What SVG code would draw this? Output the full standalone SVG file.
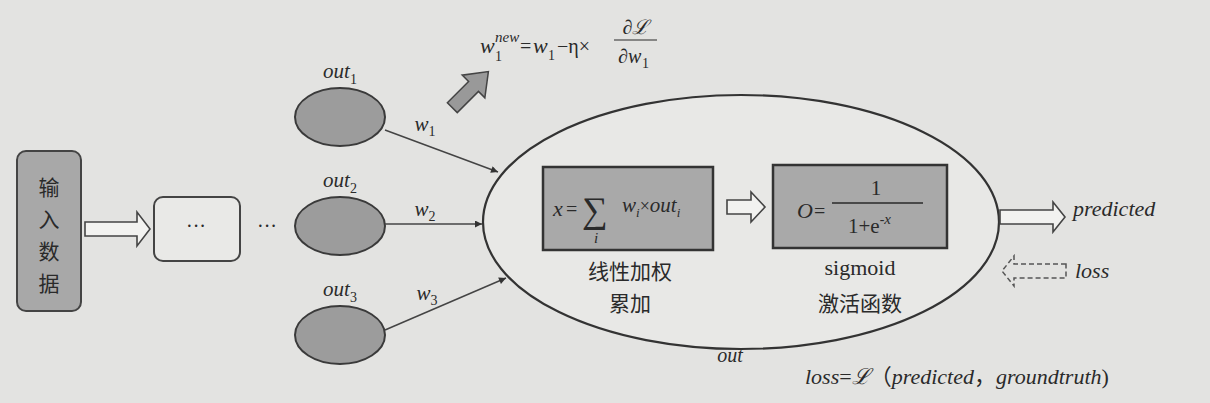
<svg xmlns="http://www.w3.org/2000/svg" width="1210" height="403" viewBox="0 0 1210 403">
<defs>
<style>
.bg{fill:#e3e3e1}
.m{font-style:italic;fill:#2a2a2a}
.r{fill:#2a2a2a}
.cjk{fill:#2a2a2a;font-size:21px}
.node{fill:#9c9c9c;stroke:#3a3a3a;stroke-width:2}
.box{fill:#a9a9a9;stroke:#333;stroke-width:2.5}
.hollow{fill:#f2f2f0;stroke:#444;stroke-width:1.6}
.edge{stroke:#444;stroke-width:1.5;fill:none;marker-end:url(#ah)}
</style>
<marker id="ah" viewBox="0 0 10 10" refX="10" refY="5" markerWidth="9" markerHeight="7" orient="auto" markerUnits="userSpaceOnUse">
<path d="M0,0 L10,5 L0,10 z" fill="#333"/>
</marker>
</defs>
<rect class="bg" x="0" y="0" width="1210" height="403"/>
<g font-family="'Liberation Serif', 'Times New Roman', 'DejaVu Serif', 'Noto Sans CJK SC', serif">

<g id="formula-update">
<text class="m" x="480" y="53" font-size="22">w</text>
<text class="r" x="495" y="61" font-size="14">1</text>
<text class="m" x="495" y="42" font-size="15">new</text>
<text class="r" x="520" y="53" font-size="20">=</text>
<text class="m" x="533" y="53" font-size="22">w</text>
<text class="r" x="548" y="60" font-size="14">1</text>
<text class="r" x="557" y="53" font-size="20">−η×</text>
<text class="m" x="636" y="34" font-size="20" text-anchor="middle">∂ℒ</text>
<line x1="614" y1="40" x2="657" y2="40" stroke="#2a2a2a" stroke-width="1.2"/>
<text class="m" x="618" y="63" font-size="20">∂w</text>
<text class="r" x="642" y="68" font-size="14">1</text>
</g>

<g id="update-arrow">
<polygon transform="translate(470,90) rotate(-45)" points="-25,-7 5,-7 5,-16 26,0 5,16 5,7 -25,7" fill="#999" stroke="#444" stroke-width="1.5"/>
</g>

<g id="input">
<rect x="17" y="151" width="64" height="160" rx="9" fill="#a8a8a8" stroke="#444" stroke-width="2"/>
<text class="cjk" x="49" y="195" text-anchor="middle">输</text>
<text class="cjk" x="49" y="227" text-anchor="middle">入</text>
<text class="cjk" x="49" y="259" text-anchor="middle">数</text>
<text class="cjk" x="49" y="291" text-anchor="middle">据</text>
</g>

<g id="hidden">
<rect x="154" y="197" width="86" height="64" rx="9" fill="#e9e9e7" stroke="#444" stroke-width="2"/>
<text class="r" x="196" y="233" font-size="20" text-anchor="middle">···</text>
<text class="r" x="267" y="233" font-size="20" text-anchor="middle">···</text>
</g>

<g id="out1">
<ellipse class="node" cx="340" cy="117" rx="45" ry="29"/>
<text class="m" x="340" y="78" font-size="21" text-anchor="middle">out<tspan font-style="normal" font-size="14" dy="6">1</tspan></text>
</g>
<g id="out2">
<ellipse class="node" cx="340" cy="226" rx="45" ry="29"/>
<text class="m" x="340" y="187" font-size="21" text-anchor="middle">out<tspan font-style="normal" font-size="14" dy="6">2</tspan></text>
</g>
<g id="out3">
<ellipse class="node" cx="340" cy="335" rx="45" ry="29"/>
<text class="m" x="340" y="296" font-size="21" text-anchor="middle">out<tspan font-style="normal" font-size="14" dy="6">3</tspan></text>
</g>

<g id="neuron">
<ellipse cx="741" cy="222" rx="258" ry="127" fill="#e8e8e6" stroke="#333" stroke-width="2.2"/>
<rect class="box" x="543" y="167" width="170" height="83"/>
<text class="m" x="553" y="216" font-size="22">x</text>
<text class="r" x="566" y="216" font-size="20">=</text>
<text class="r" x="582" y="222" font-size="36">∑</text>
<text class="m" x="594" y="243" font-size="15">i</text>
<text class="m" x="622" y="212" font-size="21">w<tspan font-size="13" dy="5">i</tspan><tspan font-style="normal" font-size="18" dy="-5">×</tspan>out<tspan font-size="13" dy="5">i</tspan></text>
<polygon class="hollow" points="727,200 751,200 751,192 765,207 751,222 751,214 727,214"/>
<rect class="box" x="773" y="165" width="174" height="83"/>
<text class="m" x="797" y="218" font-size="22">O</text>
<text class="r" x="814" y="218" font-size="20">=</text>
<text class="r" x="876" y="195" font-size="21" text-anchor="middle">1</text>
<line x1="832" y1="203" x2="923" y2="203" stroke="#2a2a2a" stroke-width="1.3"/>
<text class="r" x="848" y="233" font-size="21">1+e<tspan font-size="14" dy="-9">-</tspan><tspan font-style="italic" font-size="15">x</tspan></text>
<text class="cjk" x="630" y="279" text-anchor="middle" font-size="22">线性加权</text>
<text class="cjk" x="630" y="311" text-anchor="middle" font-size="22">累加</text>
<text class="r" x="860" y="275" text-anchor="middle" font-size="22">sigmoid</text>
<text class="cjk" x="860" y="311" text-anchor="middle" font-size="22">激活函数</text>
<text class="m" x="730" y="362" font-size="20" text-anchor="middle">out</text>
</g>

<g id="connectors">
<polygon class="hollow" points="85,222 137,222 137,212 150,229 137,246 137,236 85,236"/>
<line class="edge" x1="385" y1="130" x2="498" y2="172"/>
<line class="edge" x1="385" y1="224" x2="482" y2="224"/>
<line class="edge" x1="385" y1="330" x2="506" y2="278"/>
<polygon class="hollow" points="1000,210 1053,210 1053,202 1065,217 1053,232 1053,224 1000,224"/>
<polygon points="1066,264 1014,264 1014,256 1002,271 1014,286 1014,278 1066,278" fill="none" stroke="#555" stroke-width="1.5" stroke-dasharray="5,3"/>
</g>

<g id="labels">
<text class="m" x="425" y="131" font-size="21" text-anchor="middle">w<tspan font-style="normal" font-size="14" dy="5">1</tspan></text>
<text class="m" x="425" y="216" font-size="21" text-anchor="middle">w<tspan font-style="normal" font-size="14" dy="5">2</tspan></text>
<text class="m" x="427" y="300" font-size="21" text-anchor="middle">w<tspan font-style="normal" font-size="14" dy="5">3</tspan></text>
<text class="m" x="1073" y="216" font-size="22">predicted</text>
<text class="m" x="1075" y="278" font-size="22">loss</text>
<text class="m" x="805" y="384" font-size="22">loss<tspan font-style="normal">=</tspan>ℒ<tspan font-style="normal">（</tspan>predicted<tspan font-style="normal">，</tspan>groundtruth<tspan font-style="normal">)</tspan></text>
</g>
</g>
</svg>
